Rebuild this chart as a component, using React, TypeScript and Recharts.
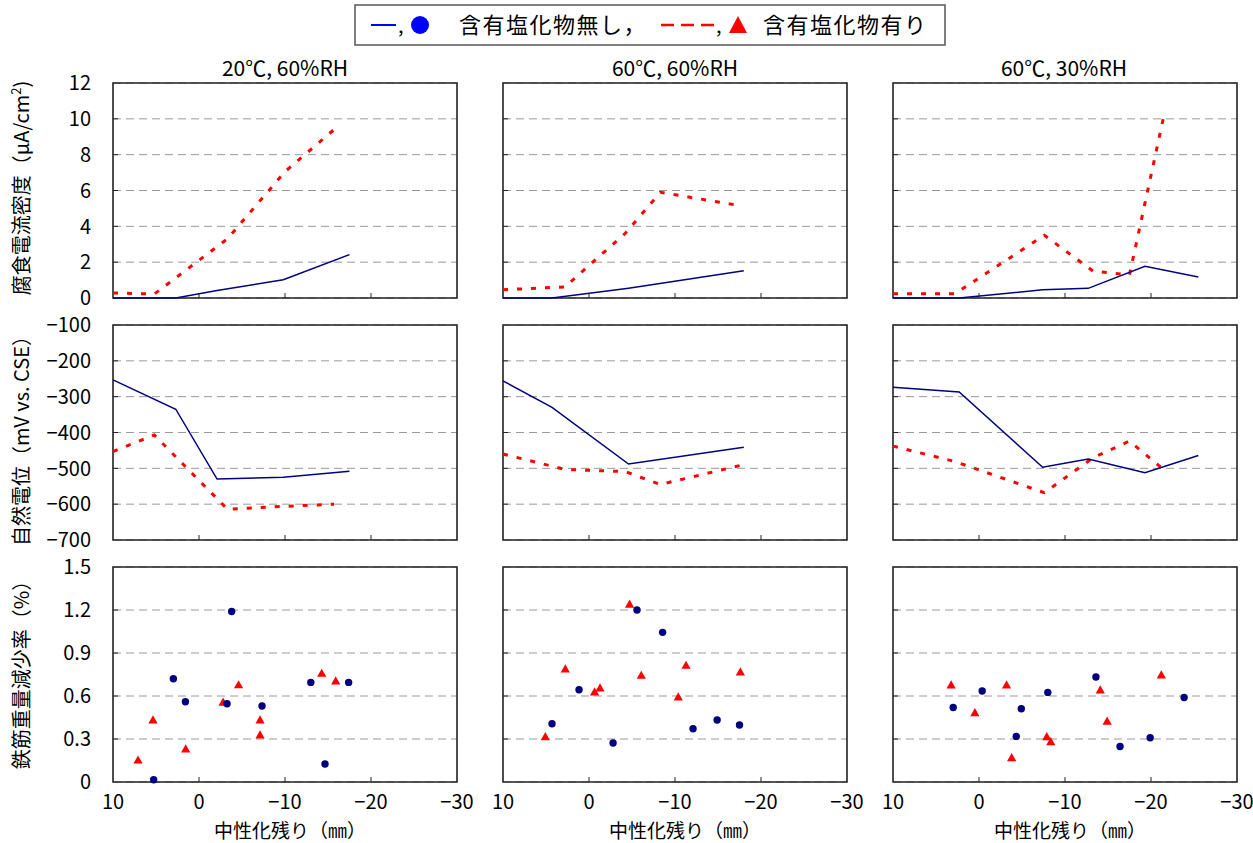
import React from 'react';
import { ComposedChart, Line, Scatter, XAxis, YAxis, CartesianGrid, ReferenceArea } from 'recharts';

const FONT = "'Noto Sans CJK JP', 'Noto Sans', sans-serif";

// ---- categories / ticks ----
const conditions = ['20℃, 60%RH', '60℃, 60%RH', '60℃, 30%RH'];
const xTicks = [10, 0, -10, -20, -30];
const currentTicks = [0, 2, 4, 6, 8, 10, 12];
const potentialTicks = [-700, -600, -500, -400, -300, -200, -100];
const lossTicks = [0, 0.3, 0.6, 0.9, 1.2, 1.5];
const rowTitles = ['腐食電流密度', '自然電位（mV vs. CSE）', '鉄筋重量減少率（%）'];
const xTitle = '中性化残り（㎜）';
const legendNoCl = '含有塩化物無し，';
const legendCl = '含有塩化物有り';

// ---- 20℃, 60%RH lines ----
const noCl20x = [10, 2.7, -2.1, -9.8, -17.5];
const noCl20Current = [0, 0, 0.42, 1.02, 2.42];
const noCl20Potential = [-253, -335, -530, -525, -508];
const cl20x = [10, 5.2, -3.3, -10, -15.7];
const cl20Current = [0.28, 0.22, 3.3, 7.05, 9.4];
const cl20Potential = [-453, -407, -614, -606, -600];

// ---- 60℃, 60%RH lines ----
const noCl60x = [10, 4.3, -4.6, -18];
const noCl60Current = [0, 0, 0.55, 1.52];
const noCl60Potential = [-256, -330, -488, -441];
const cl60x = [10, 2.8, -4.2, -8.3, -17.6];
const cl60Current = [0.46, 0.62, 3.6, 5.9, 5.15];
const cl60Potential = [-460, -503, -509, -545, -492];

// ---- 60℃, 30%RH lines ----
const noCl30x = [10, 2.3, -7.4, -12.7, -19.3, -25.5];
const noCl30Current = [0, 0, 0.46, 0.54, 1.77, 1.17];
const noCl30Potential = [-274, -287, -497, -474, -512, -464];
const cl30x = [10, 2.8, -7.6, -13.3, -17.5, -21.6];
const cl30Current = [0.24, 0.24, 3.5, 1.49, 1.3, 10.4];
const cl30Potential = [-438, -481, -568, -470, -424, -506];

// ---- weight loss scatter ----
const noCl20LossX = [5.27, 2.98, 1.58, -3.8, -3.26, -7.33, -13.0, -14.65, -17.4];
const noCl20Loss = [0.016, 0.72, 0.56, 1.19, 0.546, 0.53, 0.695, 0.126, 0.695];
const cl20LossX = [7.09, 5.35, 1.55, -2.8, -4.6, -7.1, -7.1, -14.27, -15.9];
const cl20Loss = [0.155, 0.435, 0.232, 0.558, 0.68, 0.435, 0.33, 0.76, 0.707];

const noCl60LossX = [4.3, 1.16, -2.8, -5.58, -8.56, -12.1, -14.9, -17.5];
const noCl60Loss = [0.406, 0.644, 0.272, 1.2, 1.044, 0.372, 0.433, 0.398];
const cl60LossX = [5.08, 2.76, -0.65, -1.28, -4.72, -6.08, -10.38, -11.28, -17.6];
const cl60Loss = [0.318, 0.79, 0.63, 0.658, 1.242, 0.746, 0.595, 0.816, 0.77];

const noCl30LossX = [3.0, -0.37, -4.33, -4.92, -8.0, -13.6, -16.4, -19.9, -23.85];
const noCl30Loss = [0.52, 0.635, 0.318, 0.511, 0.625, 0.733, 0.248, 0.309, 0.59];
const cl30LossX = [3.24, 0.48, -3.2, -3.8, -7.88, -8.35, -14.1, -14.9, -21.2];
const cl30Loss = [0.679, 0.486, 0.679, 0.172, 0.318, 0.283, 0.644, 0.426, 0.749];

const zip = (xs: number[], ys: number[]) => xs.map((x, i) => ({ x, y: ys[i] }));

type PanelData = { noCl: { x: number; y: number }[]; cl: { x: number; y: number }[] };

const panels: PanelData[][] = [
  [
    { noCl: zip(noCl20x, noCl20Current), cl: zip(cl20x, cl20Current) },
    { noCl: zip(noCl60x, noCl60Current), cl: zip(cl60x, cl60Current) },
    { noCl: zip(noCl30x, noCl30Current), cl: zip(cl30x, cl30Current) },
  ],
  [
    { noCl: zip(noCl20x, noCl20Potential), cl: zip(cl20x, cl20Potential) },
    { noCl: zip(noCl60x, noCl60Potential), cl: zip(cl60x, cl60Potential) },
    { noCl: zip(noCl30x, noCl30Potential), cl: zip(cl30x, cl30Potential) },
  ],
  [
    { noCl: zip(noCl20LossX, noCl20Loss), cl: zip(cl20LossX, cl20Loss) },
    { noCl: zip(noCl60LossX, noCl60Loss), cl: zip(cl60LossX, cl60Loss) },
    { noCl: zip(noCl30LossX, noCl30Loss), cl: zip(cl30LossX, cl30Loss) },
  ],
];

const rowTicks = [currentTicks, potentialTicks, lossTicks];

// ---- layout ----
const COLS = [{ x: 113, w: 344 }, { x: 503, w: 344 }, { x: 893, w: 344 }];
const ROWS = [{ y: 83, h: 215 }, { y: 325, h: 215 }, { y: 567, h: 215 }];

const NAVY = '#000080';
const RED = '#ff0000';

const fmt = (v: number) => (v < 0 ? '\u2212' + Math.abs(v) : String(v));

const YTick = (props: any) => {
  const { x, y, payload, showLabel, min, max } = props;
  const v = payload.value;
  const end = v === min || v === max;
  return (
    <g>
      {!end && <line x1={x} x2={x + 5} y1={y} y2={y} stroke="#222" strokeWidth={1} />}
      {showLabel && (
        <text x={x - 22} y={y} dy="0.36em" textAnchor="end" fontSize={20} fontFamily={FONT} fill="#000">
          {fmt(v)}
        </text>
      )}
    </g>
  );
};

const XTick = (props: any) => {
  const { x, y, payload, showLabel } = props;
  const v = payload.value;
  const end = v === 10 || v === -30;
  return (
    <g>
      {!end && <line x1={x} x2={x} y1={y} y2={y - 5} stroke="#222" strokeWidth={1} />}
      {showLabel && (
        <text x={x} y={y + 27} textAnchor="middle" fontSize={20} fontFamily={FONT} fill="#000">
          {fmt(v)}
        </text>
      )}
    </g>
  );
};

const BlueDot = (p: any) => <circle cx={p.cx} cy={p.cy} r={3.7} fill={NAVY} />;
const RedTri = (p: any) => (
  <polygon
    points={`${p.cx},${p.cy - 4.4} ${p.cx + 4.6},${p.cy + 3.8} ${p.cx - 4.6},${p.cy + 3.8}`}
    fill={RED}
  />
);

function Panel({ row, col }: { row: number; col: number }) {
  const c = COLS[col];
  const r = ROWS[row];
  const yW = col === 0 ? 110 : 30;
  const xH = row === 2 ? 40 : 14;
  const mt = 24;
  const mr = 26;
  const width = yW + c.w + mr;
  const height = mt + r.h + xH;
  const ticks = rowTicks[row];
  const min = ticks[0];
  const max = ticks[ticks.length - 1];
  const d = panels[row][col];
  return (
    <div style={{ position: 'absolute', left: c.x - yW, top: r.y - mt }}>
      <ComposedChart width={width} height={height} margin={{ top: mt, right: mr, bottom: 0, left: 0 }}>
        <CartesianGrid horizontal vertical={false} stroke="#9a9a9a" strokeDasharray="8 5" strokeWidth={1} />
        <XAxis
          type="number"
          dataKey="x"
          domain={[-30, 10]}
          reversed
          ticks={xTicks}
          interval={0}
          height={xH}
          axisLine={false}
          tickLine={false}
          tickSize={0}
          tickMargin={0}
          tick={<XTick showLabel={row === 2} />}
        />
        <YAxis
          type="number"
          dataKey="y"
          domain={[min, max]}
          ticks={ticks}
          interval={0}
          width={yW}
          axisLine={false}
          tickLine={false}
          tickSize={0}
          tickMargin={0}
          tick={<YTick showLabel={col === 0} min={min} max={max} />}
        />
        <ReferenceArea x1={10} x2={-30} y1={min} y2={max} fill="none" stroke="#222" strokeWidth={1.6} fillOpacity={0} strokeOpacity={1} />
        {row < 2 && (
          <Line
            data={d.cl}
            dataKey="y"
            type="linear"
            stroke={RED}
            strokeWidth={3}
            strokeDasharray="5 9"
            dot={false}
            activeDot={false}
            isAnimationActive={false}
          />
        )}
        {row < 2 && (
          <Line
            data={d.noCl}
            dataKey="y"
            type="linear"
            stroke={NAVY}
            strokeWidth={1.5}
            dot={false}
            activeDot={false}
            isAnimationActive={false}
          />
        )}
        {row === 2 && <Scatter data={d.cl} dataKey="y" shape={RedTri} isAnimationActive={false} />}
        {row === 2 && <Scatter data={d.noCl} dataKey="y" shape={BlueDot} isAnimationActive={false} />}
      </ComposedChart>
    </div>
  );
}

function Overlay() {
  const titleCenters = [285, 675, 1064];
  const xLabelCenters = [290, 685, 1070];
  const rowCenters = [188, 436, 670];
  return (
    <svg width={1253} height={843} style={{ position: 'absolute', left: 0, top: 0 }}>
      {/* legend */}
      <rect x={355} y={5} width={590} height={40} fill="#fff" stroke="#555" strokeWidth={1.5} />
      <line x1={371} x2={396} y1={25} y2={25} stroke="#0000ff" strokeWidth={2} />
      <text x={398} y={33} fontSize={20} fontFamily={FONT}>,</text>
      <circle cx={420} cy={25} r={9} fill="#0000ff" />
      <text x={459} y={33} fontSize={22} fontFamily={FONT} letterSpacing={1.5}>{legendNoCl}</text>
      <line x1={661} x2={716} y1={25} y2={25} stroke={RED} strokeWidth={2.5} strokeDasharray="13 7" />
      <text x={716} y={33} fontSize={20} fontFamily={FONT}>,</text>
      <polygon points="738,16 747,33 729,33" fill={RED} />
      <text x={763} y={33} fontSize={22} fontFamily={FONT} letterSpacing={1.5}>{legendCl}</text>
      {/* condition titles */}
      {conditions.map((t, i) => (
        <text key={t} x={titleCenters[i]} y={76} textAnchor="middle" fontSize={21} fontFamily={FONT}>
          {t}
        </text>
      ))}
      {/* x titles */}
      {xLabelCenters.map((cx, i) => (
        <text key={i} x={cx} y={838} textAnchor="middle" fontSize={19} fontFamily={FONT}>
          {xTitle}
        </text>
      ))}
      {/* y titles */}
      <text x={0} y={0} transform={`translate(29, ${rowCenters[0]}) rotate(-90)`} textAnchor="middle" fontSize={20} fontFamily={FONT}>
        {rowTitles[0]}（μA/cm<tspan fontSize={13} dy={-8}>2</tspan><tspan dy={8}>)</tspan>
      </text>
      <text x={0} y={0} transform={`translate(29, ${rowCenters[1]}) rotate(-90)`} textAnchor="middle" fontSize={20} fontFamily={FONT}>
        {rowTitles[1]}
      </text>
      <text x={0} y={0} transform={`translate(29, ${rowCenters[2]}) rotate(-90)`} textAnchor="middle" fontSize={20} fontFamily={FONT}>
        {rowTitles[2]}
      </text>
    </svg>
  );
}

export default function App() {
  return (
    <div style={{ position: 'absolute', left: 0, top: 0, width: 1253, height: 843, background: '#fff', overflow: 'hidden' }}>
      <Overlay />
      {[0, 1, 2].map((row) =>
        [0, 1, 2].map((col) => <Panel key={`${row}-${col}`} row={row} col={col} />)
      )}
    </div>
  );
}
